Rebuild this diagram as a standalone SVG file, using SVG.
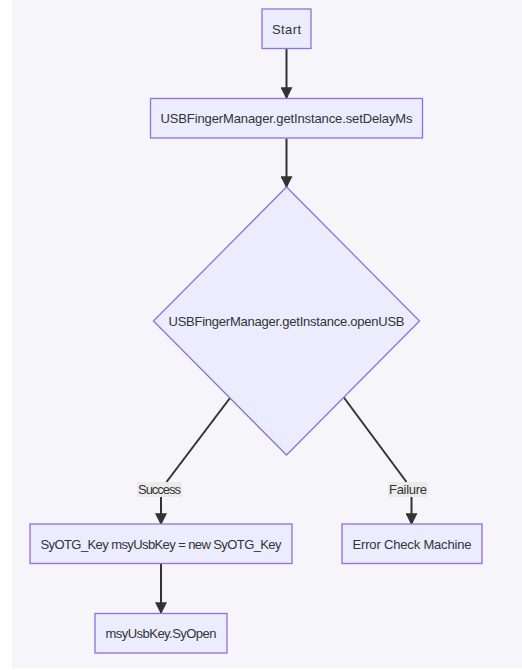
<svg xmlns="http://www.w3.org/2000/svg" width="522" height="670" viewBox="0 0 522 670">
<defs>
<style>
.node rect, .node polygon { fill: #ECECFF; stroke: #9370DB; stroke-width: 1.3; }
.node text { font-family: "Liberation Sans", Arial, sans-serif; font-size: 13px; fill: #333333; text-anchor: middle; dominant-baseline: central; }
.edge { fill: none; stroke: #333333; stroke-width: 2; }
.lbl rect { fill: #e8e8e8; opacity: 0.8; }
.lbl text { font-family: "Liberation Sans", Arial, sans-serif; font-size: 13px; fill: #333333; text-anchor: middle; dominant-baseline: central; }
</style>
<marker id="arrow" viewBox="0 0 10 10" refX="9" refY="5" markerUnits="userSpaceOnUse" markerWidth="12" markerHeight="12" orient="auto">
<path d="M0,0 L10,5 L0,10 z" fill="#333333"/>
</marker>
</defs>
<rect x="12" y="0" width="510" height="668" fill="#F5F5FA"/>
<g id="connectors">
<path class="edge" d="M286.5,48.5 L286.5,98" marker-end="url(#arrow)"/>
<path class="edge" d="M286.5,138.5 L286.5,187" marker-end="url(#arrow)"/>
<path class="edge" d="M230,398 L166.5,482"/>
<path class="edge" d="M161,497 L161,524" marker-end="url(#arrow)"/>
<path class="edge" d="M343.5,397 L406.5,482"/>
<path class="edge" d="M411.5,497 L411.5,524" marker-end="url(#arrow)"/>
<path class="edge" d="M161,564 L161,613" marker-end="url(#arrow)"/>
<g class="lbl" id="label-success"><rect x="137" y="482" width="45" height="15"/><text x="159.5" y="489.5" textLength="43">Success</text></g>
<g class="lbl" id="label-failure"><rect x="388" y="482" width="40" height="15"/><text x="408" y="489.5" textLength="38">Failure</text></g>
</g>
<g class="node" id="start"><rect x="262" y="9" width="49" height="39.5"/><text x="286.5" y="29" textLength="29">Start</text></g>
<g class="node" id="setDelay"><rect x="150.5" y="98.5" width="272" height="39.5"/><text x="286.5" y="118.5" textLength="252">USBFingerManager.getInstance.setDelayMs</text></g>
<g class="node" id="openUSB"><polygon points="286.5,187 419.5,321 286.5,455 153.5,321"/><text x="286.5" y="321.5" textLength="236">USBFingerManager.getInstance.openUSB</text></g>
<g class="node" id="newKey"><rect x="30" y="524" width="262" height="39.5"/><text x="161" y="544" textLength="241">SyOTG_Key msyUsbKey = new SyOTG_Key</text></g>
<g class="node" id="error"><rect x="342" y="524" width="140" height="39.5"/><text x="412" y="544" textLength="119">Error Check Machine</text></g>
<g class="node" id="syOpen"><rect x="95" y="613.5" width="132" height="39.5"/><text x="161" y="633.5" textLength="111">msyUsbKey.SyOpen</text></g>
</svg>
